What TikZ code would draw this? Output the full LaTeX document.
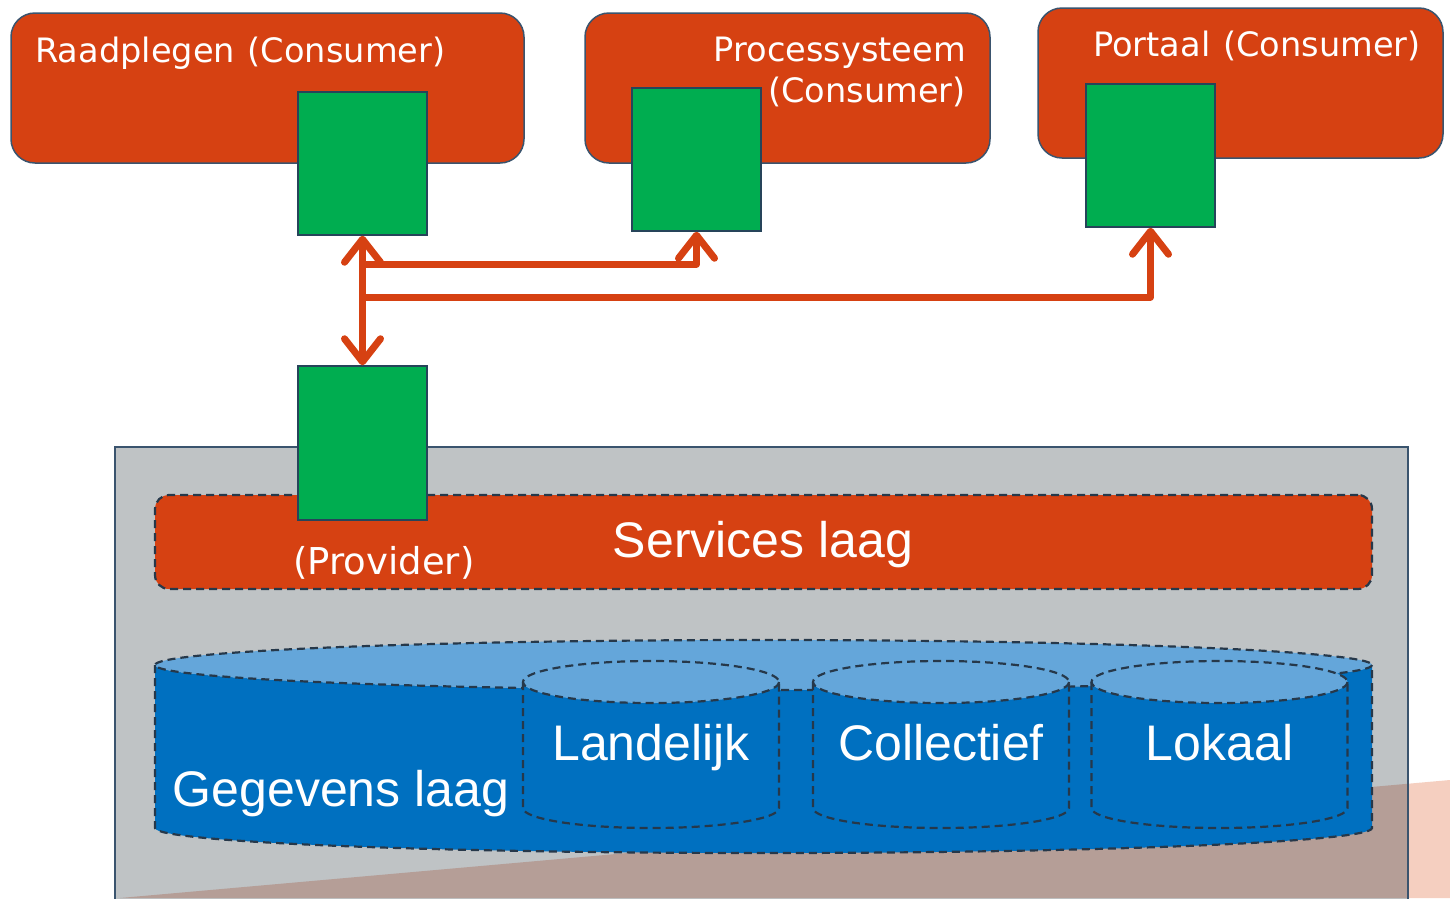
\documentclass[tikz,border=0pt]{standalone}
\usepackage{fontspec}
\setmainfont{Liberation Sans}
\newfontfamily\verd[WordSpace=1.2]{DejaVu Sans}
\usetikzlibrary{arrows.meta}
\definecolor{ored}{RGB}{214,65,18}
\definecolor{grn}{RGB}{0,173,80}
\definecolor{gbox}{RGB}{191,195,197}
\definecolor{bord}{RGB}{58,84,110}
\definecolor{gbord}{RGB}{38,68,90}
\definecolor{dsh}{RGB}{38,56,74}
\definecolor{bside}{RGB}{0,112,192}
\definecolor{btop}{RGB}{100,166,218}
\definecolor{pinkc}{RGB}{245,207,192}
\definecolor{brownc}{RGB}{181,158,151}
\tikzset{
  topbox/.style={draw=bord, line width=1.5pt, fill=ored, rounded corners=24pt, inner sep=0pt},
  gsq/.style={draw=gbord, line width=1.5pt, fill=grn, minimum width=129pt, inner sep=0pt},
  vtxt/.style={font=\verd\fontsize{33.6pt}{38pt}\selectfont, text=white, inner sep=0pt},
  atxt/.style={font=\fontsize{50pt}{56pt}\selectfont, text=white, inner sep=0pt},
  dline/.style={draw=dsh, line width=2.2pt, dash pattern=on 8pt off 5pt},
  arr/.style={draw=ored, line width=7pt, line cap=round, line join=round},
  tipb/.tip={Straight Barb[length=23pt, width=36pt, line cap=round, line join=round]}
}
\begin{document}
\begin{tikzpicture}[x=1pt,y=-1pt]
\clip (0,0) rectangle (1450,898);
\fill[white] (0,0) rectangle (1450,898);
% pink triangle
\fill[pinkc] (120,898) -- (1450,780) -- (1450,898) -- cycle;
% gray container
\fill[gbox] (115,447) rectangle (1408,920);
\begin{scope}
  \clip (115,447) rectangle (1408,920);
  \fill[brownc] (120,898) -- (1450,780) -- (1450,898) -- cycle;
\end{scope}
\draw[bord, line width=1.5pt] (115,447) rectangle (1408,920);
% services bar
\node[fill=ored, dline, rounded corners=14pt, minimum width=1217pt, minimum height=94pt, inner sep=0pt] (SB) at (763.5,542) {};
\node[atxt, anchor=base] (SBt) at (763,557) {Services laag};
\node[vtxt, font=\verd\fontsize{37pt}{42pt}\selectfont, anchor=base] (PVt) at (384,574) {(Provider)};
\node[gsq, minimum height=154pt] (G4) at (362.5,443) {};
% big cylinder
\fill[bside] (155,665) -- (155,828) arc[start angle=180,end angle=0,x radius=608.5,y radius=25] -- (1372,665) arc[start angle=0,end angle=180,x radius=608.5,y radius=25] -- cycle;
\fill[btop] (763.5,665) ellipse[x radius=608.5,y radius=25];
\draw[dline] (763.5,665) ellipse[x radius=608.5,y radius=25];
\draw[dline] (155,665) -- (155,828) arc[start angle=180,end angle=0,x radius=608.5,y radius=25] -- (1372,665);
\node[atxt, anchor=base] (GL) at (341,806) {Gegevens laag};
% small cylinders
\foreach \cx/\nm in {651/Landelijk,941/Collectief,1219.5/Lokaal}{
  \fill[bside] (\cx-128,682) -- (\cx-128,808) arc[start angle=180,end angle=0,x radius=128,y radius=20] -- (\cx+128,682) arc[start angle=0,end angle=180,x radius=128,y radius=21] -- cycle;
  \fill[btop] (\cx,682) ellipse[x radius=128,y radius=21];
  \draw[dline] (\cx,682) ellipse[x radius=128,y radius=21];
  \draw[dline] (\cx-128,682) -- (\cx-128,808) arc[start angle=180,end angle=0,x radius=128,y radius=20] -- (\cx+128,682);
  \node[atxt, anchor=base] (L\nm) at (\cx,760) {\nm};
}
% top boxes
\node[topbox, minimum width=513pt, minimum height=150pt] (B1) at (267.5,88) {};
\node[topbox, minimum width=405pt, minimum height=150pt] (B2) at (787.5,88) {};
\node[topbox, minimum width=405pt, minimum height=150pt] (B3) at (1240.5,83) {};
\node[vtxt, anchor=base west] (T1) at (35,62) {Raadplegen (Consumer)};
\node[vtxt, anchor=base east] (T2a) at (966,61) {Processysteem};
\node[vtxt, anchor=base east] (T2b) at (966,102) {(Consumer)};
\node[vtxt, anchor=base west] (T3) at (1093,56) {Portaal (Consumer)};
\node[gsq, minimum height=143pt] (G1) at (362.5,163.5) {};
\node[gsq, minimum height=143pt] (G2) at (696.5,159.5) {};
\node[gsq, minimum height=143pt] (G3) at (1150.5,155.5) {};
% connectors
\coordinate (j1) at (362.5,264);
\coordinate (j2) at (362.5,297);
\draw[arr, -{tipb}] (j1) -| (G2.south);
\draw[arr, -{tipb}] (j2) -| (G3.south);
\draw[arr, {tipb}-{tipb}] (G1.south) -- (G4.north);
\end{tikzpicture}
\end{document}
